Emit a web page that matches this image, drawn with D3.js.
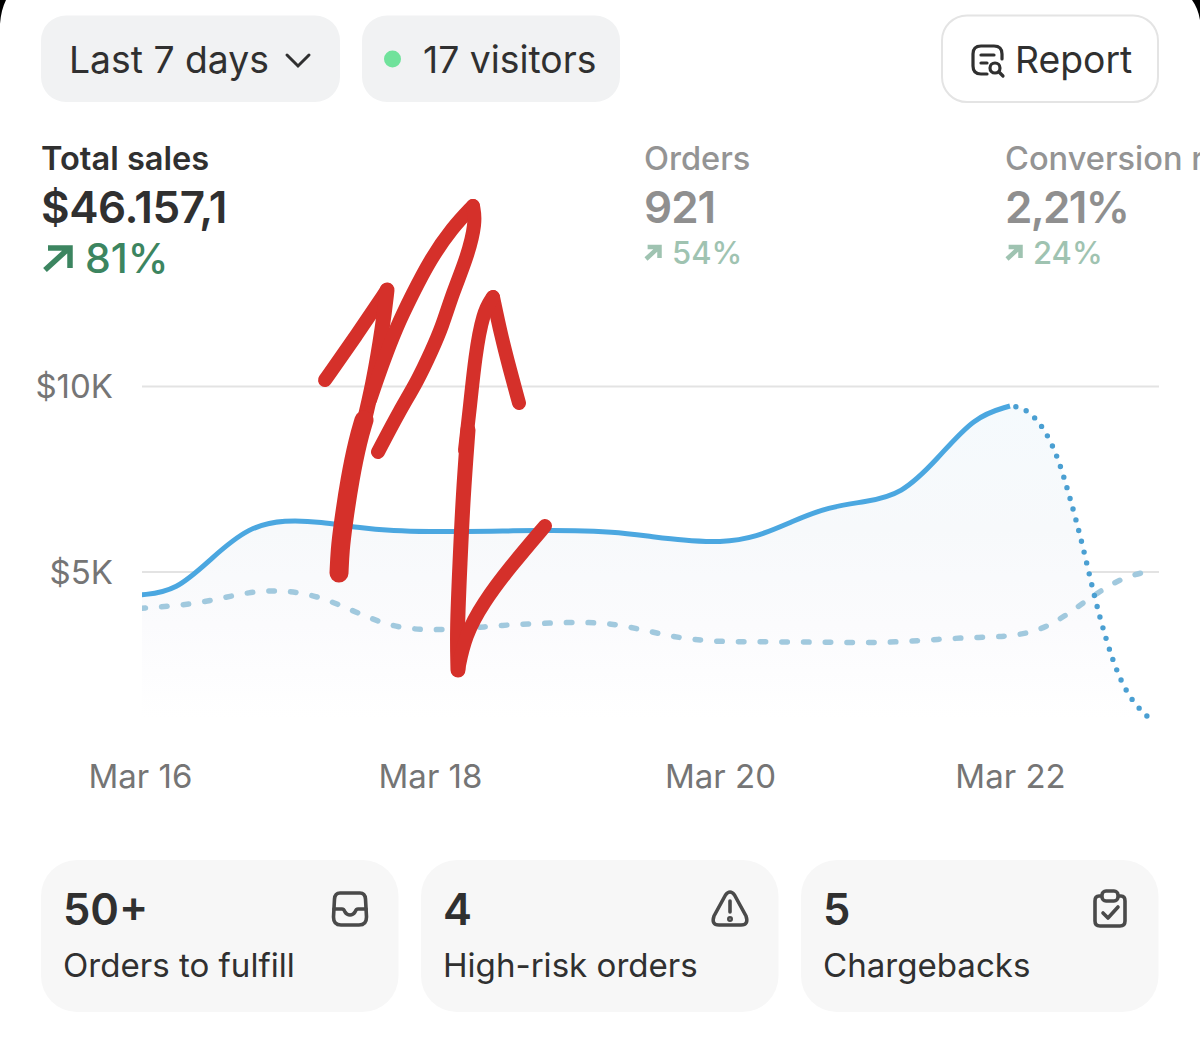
<!DOCTYPE html>
<html>
<head>
<meta charset="utf-8">
<script src="https://cdn.jsdelivr.net/npm/d3@7"></script>
<style>
  html, body { margin: 0; padding: 0; background: #fff; overflow: hidden; }
  text { font-family: Inter, "Noto Sans", sans-serif; }
</style>
</head>
<body>
<div id="my_dataviz"></div>
<script>
// Chart values
const xTickHours = [0, 48, 96, 144];
const xTickLabels = ["Mar 16", "Mar 18", "Mar 20", "Mar 22"];
const yTicks = [5000, 10000];
const yTickLabels = ["$5K", "$10K"];

// current period, hours from Mar 16 00:00
const salesHours = [0, 6, 12, 18, 24, 30, 36, 42, 48, 54, 60, 66, 72, 78, 84, 90, 96, 102, 108, 114, 120, 126, 132, 138, 144];
const salesValues = [4380, 4480, 5400, 6220, 6410, 6350, 6195, 6110, 6090, 6090, 6105, 6120, 6120, 6080, 5970, 5850, 5790, 5930, 6370, 6760, 6890, 7080, 8040, 9190, 9475];
// last stretch is the unfinished day, drawn dotted
const tailHours = [144, 146, 148, 150, 152, 154, 156, 158, 160, 162, 164, 166, 167];
const tailValues = [9475, 9440, 9200, 8770, 8070, 6965, 5755, 4300, 3115, 2170, 1575, 1215, 1065];
// previous period, dashed
const prevHours = [0, 6, 12, 18, 24, 30, 36, 42, 48, 54, 60, 66, 72, 78, 84, 90, 96, 102, 108, 114, 120, 126, 132, 138, 144, 150, 156, 162, 167];
const prevValues = [4020, 4085, 4225, 4470, 4520, 4335, 3895, 3500, 3430, 3470, 3570, 3610, 3650, 3625, 3410, 3195, 3120, 3120, 3115, 3105, 3095, 3115, 3185, 3240, 3255, 3455, 4155, 4830, 5020];

const metrics = ["Total sales", "Orders", "Conversion rate"];
const metricValues = ["$46.157,1", "921", "2,21%"];
const metricChanges = ["81%", "54%", "24%"];
const cardValues = ["50+", "4", "5"];
const cardLabels = ["Orders to fulfill", "High-risk orders", "Chargebacks"];

const svg = d3.select("#my_dataviz")
  .append("svg")
    .attr("width", 1200)
    .attr("height", 1039);

const ink = "#303030";

// black phone corners
svg.append("path").attr("d", "M0,0 L6,0 Q1,10 0,24 Z").attr("fill", "#000");
svg.append("path").attr("d", "M1200,0 L1192,0 Q1198,8 1200,20 Z").attr("fill", "#000");

// Top buttons
function pill(x, w, fill, stroke) {
  svg.append("rect")
    .attr("x", x).attr("y", 15.5)
    .attr("width", w).attr("height", 86.5)
    .attr("rx", 25)
    .attr("fill", fill)
    .attr("stroke", stroke)
    .attr("stroke-width", stroke == "none" ? 0 : 2);
}
function label(x, y, txt, size, weight, color) {
  return svg.append("text")
    .attr("x", x).attr("y", y)
    .attr("font-size", size)
    .attr("font-weight", weight)
    .attr("fill", color)
    .text(txt);
}
pill(41, 299, "#f1f2f3", "none");
pill(362, 258, "#f1f2f3", "none");
pill(942, 216, "#fff", "#e4e4e4");

label(69, 73, "Last 7 days", 37.3, 400, ink);
svg.append("path").attr("d", "M287,55 L298,66 L309,55")
  .attr("fill", "none").attr("stroke", ink).attr("stroke-width", 3).attr("stroke-linecap", "round");
svg.append("circle").attr("cx", 392.5).attr("cy", 59).attr("r", 8.5).attr("fill", "#70e29b");
label(423, 73, "17 visitors", 37.3, 400, ink);
label(1015, 73, "Report", 37.3, 400, ink);

// report icon
const iconG = svg.append("g").attr("fill", "none").attr("stroke", ink).attr("stroke-width", 3.2).attr("stroke-linecap", "round");
iconG.append("path").attr("d", "M987,74 H981 Q973,74 973,66 V54 Q973,46 981,46 H994 Q1002,46 1002,54 V59");
iconG.append("path").attr("d", "M981,55 H994 M981,63 H987");
iconG.append("circle").attr("cx", 995).attr("cy", 68).attr("r", 5);
iconG.append("path").attr("d", "M999,72 L1003,76");

// Metrics row
const metricX = [42, 645, 1006];
const metricSpacing = [-0.4, -1, -1.7];
metrics.forEach(function(m, i) {
  const first = i == 0;
  label(metricX[i] - 1, 170, m, 32.6, first ? 600 : 500, first ? ink : "#949494");
  label(metricX[i] - 1, 223, metricValues[i], 44, 600, first ? ink : "#8f8f8f").attr("letter-spacing", metricSpacing[i]);
  const green = first ? "#3c8560" : "#9fc3b1";
  const s = first ? 1 : 0.54;
  const ax = metricX[i] + (first ? 3 : 1), ay = first ? 270 : 259;
  svg.append("path")
    .attr("d", `M${ax},${ay} L${ax + 23 * s},${ay - 21 * s} M${ax + 3 * s},${ay - 22 * s} H${ax + 25 * s} V${ay - 2 * s}`)
    .attr("fill", "none").attr("stroke", green).attr("stroke-width", first ? 5.5 : 4.5);
  label(metricX[i] + (first ? 43 : 27), first ? 273 : 264, metricChanges[i], first ? 41 : 31, 500, green);
});

// Scales, one day is 145px
const x = d3.scaleLinear().domain([0, 168]).range([140, 1155]);
const y = d3.scaleLinear().domain([0, 10000]).range([757.5, 386.5]);

// Gridlines
svg.selectAll(".grid")
  .data(yTicks)
  .join("line")
    .attr("x1", 142).attr("x2", 1159)
    .attr("y1", d => y(d)).attr("y2", d => y(d))
    .attr("stroke", "#e3e3e3").attr("stroke-width", 2);

const defs = svg.append("defs");
// Area gradient below the current series
const grad = defs.append("linearGradient")
  .attr("id", "fade")
  .attr("gradientUnits", "userSpaceOnUse")
  .attr("x1", 0).attr("x2", 0).attr("y1", y(9475)).attr("y2", 718);
grad.append("stop").attr("offset", 0).attr("stop-color", "#f5fafd");
grad.append("stop").attr("offset", 0.4).attr("stop-color", "#f7f9fb");
grad.append("stop").attr("offset", 0.7).attr("stop-color", "#fbfbfd");
grad.append("stop").attr("offset", 1).attr("stop-color", "#fff");
// lines start at the gridline's left end
defs.append("clipPath").attr("id", "plot")
  .append("rect").attr("x", 142).attr("y", 300).attr("width", 1017).attr("height", 460);

const plot = svg.append("g").attr("clip-path", "url(#plot)");

const currentPts = salesHours.map((h, i) => [h, salesValues[i]]);
const tailPts = tailHours.map((h, i) => [h, tailValues[i]]);
const prevPts = prevHours.map((h, i) => [h, prevValues[i]]);

const area = d3.area()
  .x(d => x(d[0])).y0(y(0)).y1(d => y(d[1]))
  .curve(d3.curveBasis);
const line = d3.line()
  .x(d => x(d[0])).y(d => y(d[1]))
  .curve(d3.curveBasis);

plot.append("path")
  .attr("d", area(currentPts.concat(tailPts.slice(1))))
  .attr("fill", "url(#fade)");

plot.append("path")
  .attr("d", line(prevPts))
  .attr("fill", "none")
  .attr("stroke", "#a1c9de")
  .attr("stroke-width", 5.5)
  .attr("stroke-linecap", "round")
  .attr("stroke-dasharray", "5.5 16.2");

plot.append("path")
  .attr("d", line(currentPts))
  .attr("fill", "none")
  .attr("stroke", "#4ba7e0")
  .attr("stroke-width", 5);

plot.append("path")
  .attr("d", line(tailPts))
  .attr("fill", "none")
  .attr("stroke", "#4a9fd2")
  .attr("stroke-width", 5.4)
  .attr("stroke-linecap", "round")
  .attr("stroke-dasharray", "0 11.1")
  .attr("stroke-dashoffset", -6);

// Axes
const xAxis = svg.append("g")
  .attr("transform", "translate(0,757.5)")
  .call(d3.axisBottom(x).tickValues(xTickHours).tickSize(0).tickPadding(7)
    .tickFormat((d, i) => xTickLabels[i]));
const yAxis = svg.append("g")
  .attr("transform", "translate(142,0.5)")
  .call(d3.axisLeft(y).tickValues(yTicks).tickSize(0).tickPadding(29)
    .tickFormat((d, i) => yTickLabels[i]));
[xAxis, yAxis].forEach(function(a) {
  a.select(".domain").remove();
  a.selectAll("text")
    .attr("font-size", 33)
    .attr("font-family", "Inter")
    .attr("fill", "#757575");
});

// Bottom cards
const cardX = [41, 421, 801];
cardX.forEach(function(cx, i) {
  svg.append("rect")
    .attr("x", cx).attr("y", 860)
    .attr("width", 357.5).attr("height", 152)
    .attr("rx", 36)
    .attr("fill", "#f7f7f7");
  label(cx + 22, 925, cardValues[i], 43.5, 600, ink);
  label(cx + 22, 977, cardLabels[i], 33.1, 400, ink);
});

// card icons
const icons = svg.append("g").attr("fill", "none").attr("stroke", "#4a4a4a").attr("stroke-width", 3.6)
  .attr("stroke-linecap", "round").attr("stroke-linejoin", "round");
icons.append("path").attr("d", "M340,893 H360 Q365,893 365.5,899 L366.5,917 Q366.5,925 359,925 H341 Q333.5,925 333.5,917 L334.5,899 Q335,893 340,893 Z");
icons.append("path").attr("d", "M334,909 H342 Q344,909 345,912 Q347,915 350,915 Q353,915 355,912 Q356,909 358,909 H366");
icons.append("path").attr("d", "M725.5,895 Q730,889 734.5,895 L746,916 Q749,925 741,925 H719 Q711,925 714,916 Z");
icons.append("path").attr("d", "M730,901 V912");
icons.append("circle").attr("cx", 730).attr("cy", 919).attr("r", 1.2);
icons.append("path").attr("d", "M1101,896 H1099 Q1095,896 1095,901 V921 Q1095,926 1100,926 H1120 Q1125,926 1125,921 V901 Q1125,896 1121,896 H1119");
icons.append("rect").attr("x", 1102).attr("y", 891).attr("width", 16).attr("height", 10).attr("rx", 4);
icons.append("path").attr("d", "M1103,913 L1108,918 L1118,907");

// Red pen scribble on top of everything
const pen = d3.line().curve(d3.curveBasis);
const strokes = [
  { w: 14, pts: [[325, 380], [325, 380], [356, 336], [387, 290], [387, 290]] },
  { w: 15, pts: [[387, 290], [387, 290], [383, 325], [373, 385], [362, 430], [362, 430]] },
  { w: 19, pts: [[364, 420], [364, 420], [358, 440], [350, 478], [343, 525], [340, 550], [339, 573], [339, 573]] },
  { w: 14, pts: [[370, 400], [370, 400], [382, 365], [396, 328], [412, 295], [430, 260], [452, 228], [473, 206], [473, 206]] },
  { w: 14, pts: [[473, 206], [473, 206], [476, 222], [467, 258], [453, 292], [442, 327], [432, 350], [417, 382], [400, 410], [378, 452], [378, 452]] },
  { w: 14, pts: [[519, 403], [519, 403], [510, 370], [501, 335], [493, 297], [493, 297]] },
  { w: 14, pts: [[493, 297], [493, 297], [483, 312], [475, 357], [470, 407], [465, 450], [465, 450]] },
  { w: 15, pts: [[468, 430], [468, 430], [463, 497], [460, 563], [457, 630], [458, 670], [458, 670]] },
  { w: 14, pts: [[458, 670], [458, 670], [465, 636], [483, 603], [510, 567], [545, 526], [545, 526]] }
];
svg.append("g")
  .selectAll("path")
  .data(strokes)
  .join("path")
    .attr("d", d => pen(d.pts))
    .attr("fill", "none")
    .attr("stroke", "#d5302a")
    .attr("stroke-width", d => d.w)
    .attr("stroke-linecap", "round")
    .attr("stroke-linejoin", "round");
</script>
</body>
</html>
